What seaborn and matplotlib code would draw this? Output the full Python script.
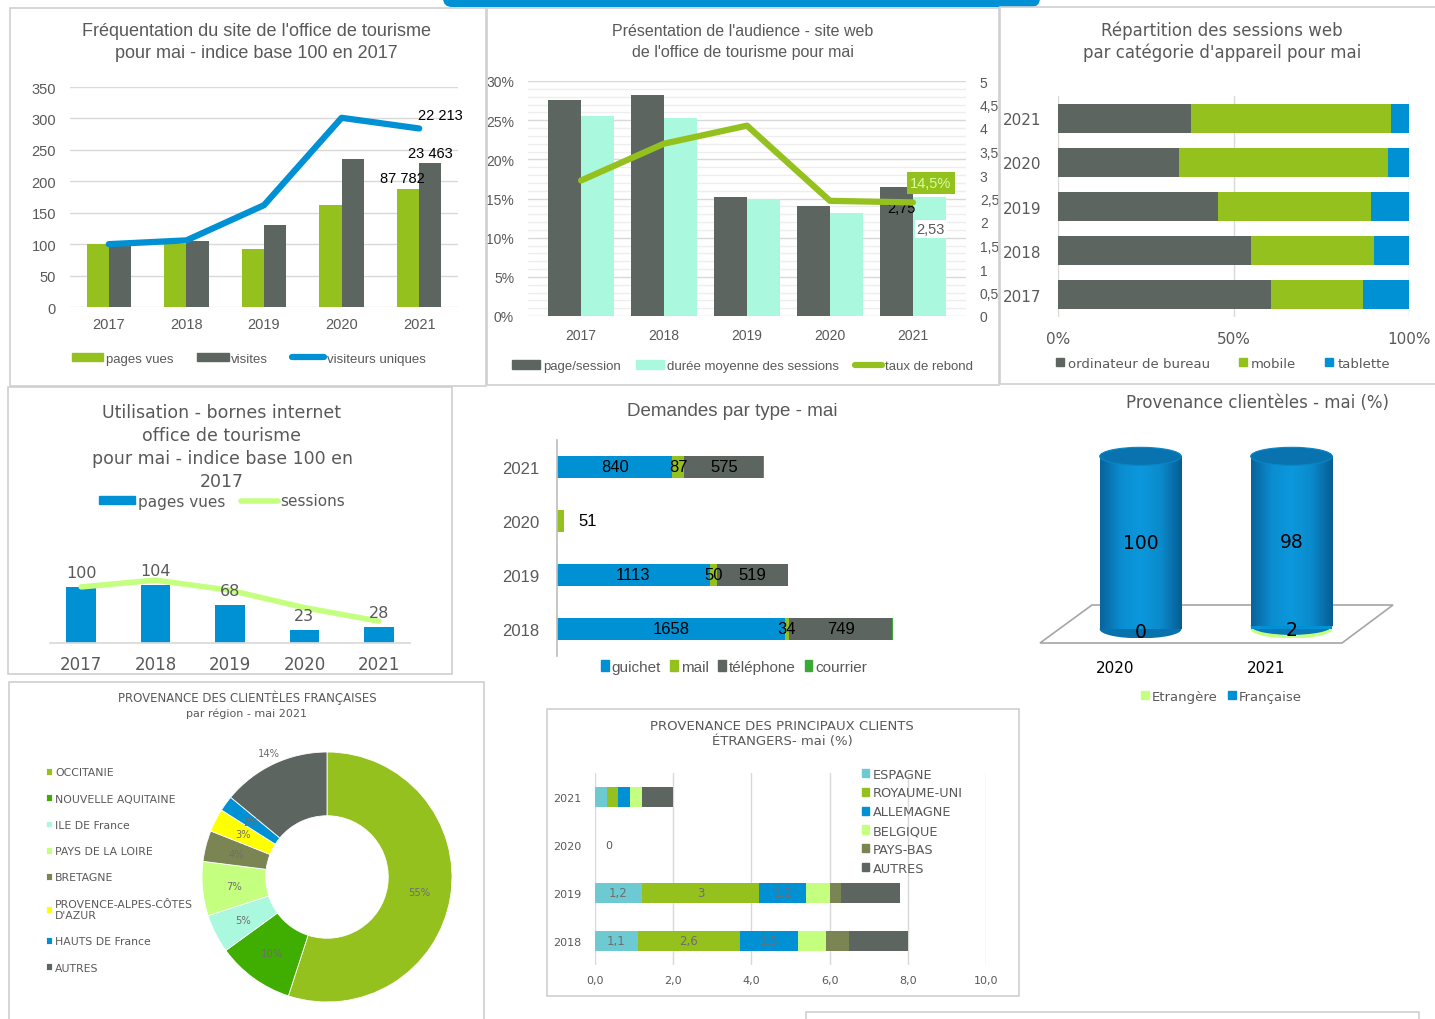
import numpy as np
import pandas as pd
import seaborn as sns
import matplotlib
matplotlib.use('Agg')
import matplotlib.pyplot as plt
from matplotlib import font_manager
from matplotlib.colors import LinearSegmentedColormap
from matplotlib.lines import Line2D
from matplotlib.patches import Patch, Rectangle, Ellipse, Polygon, FancyBboxPatch
from matplotlib.transforms import IdentityTransform, ScaledTranslation

years = ['2017', '2018', '2019', '2020', '2021']

# fréquentation du site (indice base 100 en 2017)
web_pages_vues = [100, 101, 92, 162, 187]
web_visites = [100, 105, 130, 236, 229]
web_visiteurs_uniques = [100, 106, 162, 301, 284]

# audience du site web
page_session = [4.59, 4.70, 2.53, 2.34, 2.75]
duree_sessions = [4.26, 4.21, 2.50, 2.20, 2.53]
taux_rebond = [17.3, 22.0, 24.3, 14.7, 14.5]

# sessions web par appareil (%)
ordinateur = [60.7, 55.1, 45.6, 34.5, 37.8]
mobile = [26.1, 34.8, 43.5, 59.4, 57.1]
tablette = [13.2, 10.1, 10.9, 6.1, 5.1]

# bornes internet (indice)
bornes_pages_vues = [100, 104, 68, 23, 28]
bornes_sessions = [100, 112, 94, 63, 39]

# demandes par type
demand_years = ['2021', '2020', '2019', '2018']
guichet = [840, 0, 1113, 1658]
mail = [87, 51, 50, 34]
telephone = [575, 0, 519, 749]
courrier = [3, 0, 0, 6]

# provenance clientèles (%)
prov_years = ['2020', '2021']
etrangere = [0, 2]
francaise = [100, 98]

# régions françaises, mai 2021
regions = ['OCCITANIE', 'NOUVELLE AQUITAINE', 'ILE DE France', 'PAYS DE LA LOIRE',
           'BRETAGNE', "PROVENCE-ALPES-CÔTES\nD'AZUR", 'HAUTS DE France', 'AUTRES']
region_pct = [55, 10, 5, 7, 4, 3, 2, 14]

# principaux clients étrangers (%)
etr_years = ['2021', '2020', '2019', '2018']
pays = ['ESPAGNE', 'ROYAUME-UNI', 'ALLEMAGNE', 'BELGIQUE', 'PAYS-BAS', 'AUTRES']
espagne = [0.3, 0, 1.2, 1.1]
royaume_uni = [0.3, 0, 3.0, 2.6]
allemagne = [0.3, 0, 1.2, 1.5]
belgique = [0.3, 0, 0.6, 0.7]
pays_bas = [0.0, 0, 0.3, 0.6]
autres = [0.8, 0, 1.5, 1.5]

GREEN = '#95C11F'
GREY = '#5D6560'
BLUE = '#0091D5'
AQUA = '#AAF9DE'
LIME = '#C4FF80'
DKGREEN = '#3FAE00'
OLIVE = '#7A8553'
TEAL = '#6DCAD2'
YELLOW = '#FFFF00'
TXT = '#595959'
GRID = '#D9D9D9'

W, H = 1435, 1020

sns.set_theme(style='white')
plt.rcParams['font.family'] = ['Liberation Sans', 'DejaVu Sans']
installed = {f.name for f in font_manager.fontManager.ttflist}
NARROW = ['Liberation Sans Narrow', 'Liberation Sans'] if 'Liberation Sans Narrow' in installed else ['Liberation Sans']
ROUND = 'DejaVu Sans'


def px_axes(fig, left, top, right, bottom):
    return fig.add_axes([left / W, 1 - bottom / H, (right - left) / W, (bottom - top) / H])


def px_text(fig, x, y, s, **kw):
    kw.setdefault('ha', 'center')
    kw.setdefault('va', 'center')
    fig.text(x / W, 1 - y / H, s, **kw)


def px_box(fig, left, top, right, bottom, color='#D0D0D0'):
    fig.add_artist(Rectangle((left, H - bottom), right - left, bottom - top, fill=False,
                             edgecolor=color, lw=1.2, transform=IdentityTransform()))


def stacked_barh(ax, cats, series, colors, height):
    cum = np.cumsum(np.array(series, dtype=float), axis=0)
    for vals, col in zip(cum[::-1], colors[::-1]):
        sns.barplot(x=vals, y=cats, order=cats, orient='h', color=col, saturation=1,
                    width=height, linewidth=0, ax=ax)
    return cum


def comma(v):
    return f'{v:g}'.replace('.', ',')


fig = plt.figure(figsize=(W / 100, H / 100), dpi=100)
fig.patch.set_facecolor('white')

# bandeau bleu en haut
fig.add_artist(FancyBboxPatch((443, H - 8), 597, 30, boxstyle='round,pad=0,rounding_size=9',
                              facecolor=BLUE, edgecolor='none', transform=IdentityTransform()))

# cadres
px_box(fig, 10, 9, 486, 387)
px_box(fig, 487, 9, 999, 386)
px_box(fig, 1000, 8, 1436, 385)
px_box(fig, 8, 388, 452, 675)
px_box(fig, 9, 683, 484, 1030)
px_box(fig, 547, 710, 1019, 997)
px_box(fig, 806, 1013, 1419, 1040)

# ---------- 1. fréquentation du site ----------
ax1 = px_axes(fig, 70, 88, 458, 308)
df1 = pd.DataFrame({'annee': years * 2,
                    'serie': ['pages vues'] * 5 + ['visites'] * 5,
                    'indice': web_pages_vues + web_visites})
sns.barplot(data=df1, x='annee', y='indice', hue='serie', palette=[GREEN, GREY], saturation=1,
            width=0.57, linewidth=0, legend=False, ax=ax1)
sns.lineplot(x=np.arange(5), y=web_visiteurs_uniques, color=BLUE, lw=4.5, ax=ax1,
             solid_capstyle='round')
ax1.set_ylim(0, 350)
ax1.set_xlim(-0.5, 4.5)
ax1.set_yticks(range(0, 351, 50))
ax1.grid(axis='y', color=GRID, lw=1)
ax1.set_axisbelow(True)
sns.despine(ax=ax1, left=True, bottom=True)
ax1.tick_params(length=0, colors=TXT, labelsize=10.5)
ax1.tick_params(axis='y', pad=10)
ax1.tick_params(axis='x', pad=7)
ax1.set_xlabel('')
ax1.set_ylabel('')
ax1.annotate('22 213', (4, web_visiteurs_uniques[4]), xytext=(15, 5), textcoords='offset points',
             ha='center', va='bottom', fontsize=10.5, color='black')
ax1.annotate('23 463', (4.14, web_visites[4]), xytext=(0, 2), textcoords='offset points',
             ha='center', va='bottom', fontsize=10.5, color='black')
ax1.annotate('87 782', (3.86, web_pages_vues[4]), xytext=(-4, 3), textcoords='offset points',
             ha='center', va='bottom', fontsize=10.5, color='black')
h1 = [Patch(color=GREEN), Patch(color=GREY), Line2D([], [], color=BLUE, lw=4.5)]
ax1.legend(h1, ['pages vues', 'visites', 'visiteurs uniques'], loc='center',
           bbox_to_anchor=(0.46, -0.236), ncol=3, frameon=False, fontsize=9.5,
           handlelength=2.4, handleheight=0.6, handletextpad=0.2, columnspacing=1.8,
           labelcolor=TXT)
px_text(fig, 256, 31, "Fréquentation du site de l'office de tourisme", fontsize=13, color=TXT)
px_text(fig, 256, 53, 'pour mai - indice base 100 en 2017', fontsize=13, color=TXT)

# ---------- 2. audience du site web ----------
ax2 = px_axes(fig, 528, 82, 966, 317)
df2 = pd.DataFrame({'annee': years * 2,
                    'serie': ['page/session'] * 5 + ['durée moyenne des sessions'] * 5,
                    'valeur': page_session + duree_sessions})
for k in range(31):
    ax2.axhline(k * 5 / 30, color=GRID if k % 5 == 0 else '#EEEEEE', lw=1, zorder=0)
sns.barplot(data=df2, x='annee', y='valeur', hue='serie', palette=[GREY, AQUA], saturation=1,
            width=0.8, linewidth=0, legend=False, ax=ax2)
ax2.set_ylim(0, 5)
ax2.set_xlabel('')
ax2.set_ylabel('')
ax2r = ax2.twinx()
sns.lineplot(x=np.arange(5), y=taux_rebond, color=GREEN, lw=4.5, ax=ax2r, solid_capstyle='round')
ax2r.set_ylim(0, 30)
ax2r.set_yticks(range(0, 31, 5))
ax2r.set_yticklabels([f'{v}%' for v in range(0, 31, 5)])
ax2r.yaxis.tick_left()
ax2r.set_ylabel('')
for s in ax2r.spines.values():
    s.set_visible(False)
ax2r.tick_params(length=0, colors=TXT, labelsize=10, pad=10)
# barres sur l'échelle de droite
ax2.yaxis.tick_right()
ax2.set_yticks(np.arange(0, 5.01, 0.5))
ax2.set_yticklabels([comma(v) for v in np.arange(0, 5.01, 0.5)])
sns.despine(ax=ax2, left=True, bottom=True)
ax2.tick_params(length=0, colors=TXT, labelsize=10)
ax2.tick_params(axis='y', pad=10)
ax2.tick_params(axis='x', pad=9)
ax2.annotate(comma(page_session[4]), (3.8, page_session[4]), xytext=(4, -15),
             textcoords='offset points', ha='center', va='center', fontsize=10.5, color='black')
ax2.annotate(comma(duree_sessions[4]), (4.2, duree_sessions[4]), xytext=(1, -23),
             textcoords='offset points', ha='center', va='center', fontsize=10.5, color=TXT,
             bbox=dict(boxstyle='square,pad=0.15', facecolor='white', edgecolor='none'))
ax2r.annotate(comma(taux_rebond[4]) + '%', (4, taux_rebond[4]), xytext=(13, 14),
              textcoords='offset points', ha='center', va='center', fontsize=10.5, color='#D2FF9C',
              bbox=dict(boxstyle='square,pad=0.25', facecolor=GREEN, edgecolor='none'))
h2 = [Patch(color=GREY), Patch(color=AQUA), Line2D([], [], color=GREEN, lw=4.5)]
ax2.legend(h2, ['page/session', 'durée moyenne des sessions', 'taux de rebond'], loc='center',
           bbox_to_anchor=(0.49, -0.213), ncol=3, frameon=False, fontsize=9.5,
           handlelength=2.1, handleheight=0.6, handletextpad=0.2, columnspacing=1.2,
           labelcolor=TXT)
px_text(fig, 743, 31, "Présentation de l'audience - site web", fontsize=11.5, color=TXT)
px_text(fig, 743, 53, "de l'office de tourisme pour mai", fontsize=11.5, color=TXT)

# ---------- 3. sessions par appareil ----------
ax3 = px_axes(fig, 1058, 97, 1409, 318)
stacked_barh(ax3, years[::-1], [ordinateur[::-1], mobile[::-1], tablette[::-1]],
             [GREY, GREEN, BLUE], 0.66)
ax3.set_xlim(0, 100)
ax3.set_xticks([0, 50, 100])
ax3.set_xticklabels(['0%', '50%', '100%'])
ax3.grid(axis='x', color=GRID, lw=1)
ax3.set_axisbelow(True)
sns.despine(ax=ax3, left=True, bottom=True)
ax3.tick_params(length=0, colors=TXT, labelsize=11, labelfontfamily=ROUND)
ax3.tick_params(axis='y', pad=12)
ax3.tick_params(axis='x', pad=10)
h3 = [Patch(color=c) for c in [GREY, GREEN, BLUE]]
ax3.legend(h3, ['ordinateur de bureau', 'mobile', 'tablette'], loc='center',
           bbox_to_anchor=(0.47, -0.21), ncol=3, frameon=False,
           prop={'family': ROUND, 'size': 9.5}, handlelength=0.6, handleheight=0.6,
           handletextpad=0.3, columnspacing=2.2, labelcolor=TXT)
px_text(fig, 1222, 31, 'Répartition des sessions web', fontsize=12, color=TXT, family=ROUND)
px_text(fig, 1222, 53, "par catégorie d'appareil pour mai", fontsize=12, color=TXT, family=ROUND)

# ---------- 4. bornes internet ----------
ax4 = px_axes(fig, 50, 543, 410, 644)
sns.barplot(x=years, y=bornes_pages_vues, color=BLUE, saturation=1, width=0.4, linewidth=0, ax=ax4)
sns.lineplot(x=np.arange(5), y=bornes_sessions, color=LIME, lw=4, ax=ax4, solid_capstyle='round')
ax4.bar_label(ax4.containers[0], padding=5, color=TXT, fontsize=11.5, family=ROUND)
ax4.set_ylim(0, 180)
ax4.set_yticks([])
sns.despine(ax=ax4, left=True)
ax4.spines['bottom'].set_color(GRID)
ax4.tick_params(length=0, colors=TXT, labelsize=12, labelfontfamily=ROUND, pad=9)
h4 = [Patch(color=BLUE), Line2D([], [], color=LIME, lw=4)]
fig.legend(h4, ['pages vues', 'sessions'], loc='center', bbox_to_anchor=(222 / W, 1 - 502 / H),
           ncol=2, frameon=False, prop={'family': ROUND, 'size': 11}, handlelength=2.4,
           handleheight=0.5, handletextpad=0.2, columnspacing=1.0, labelcolor=TXT)
for i, line in enumerate(['Utilisation - bornes internet', 'office de tourisme',
                          'pour mai - indice base 100 en', '2017']):
    px_text(fig, 222, 413 + 23 * i, line, fontsize=12.5, color=TXT, family=ROUND)

# ---------- 5. demandes par type ----------
ax5 = px_axes(fig, 557, 441, 969, 657)
dem = [guichet, mail, telephone, courrier]
cum5 = stacked_barh(ax5, demand_years, dem, [BLUE, GREEN, GREY, '#3AAA35'], 0.39)
ax5.set_xlim(0, 3000)
ax5.set_xticks([])
sns.despine(ax=ax5, bottom=True)
ax5.spines['left'].set_color('#BFBFBF')
ax5.tick_params(length=0, colors=TXT, labelsize=12, labelfontfamily=NARROW, pad=13)
for r in range(len(demand_years)):
    nonzero = [s for s in range(3) if dem[s][r] > 0]
    for s in nonzero:
        start = cum5[s][r] - dem[s][r]
        if len(nonzero) == 1 and dem[s][r] < 100:
            ax5.annotate(str(dem[s][r]), (cum5[s][r], r), xytext=(17, 0), textcoords='offset points',
                         ha='center', va='center', fontsize=12, color='black', family=NARROW)
        else:
            ax5.text(start + dem[s][r] / 2, r, str(dem[s][r]), ha='center', va='center',
                     fontsize=12, color='black', family=NARROW)
h5 = [Patch(color=c) for c in [BLUE, GREEN, GREY, '#3AAA35']]
ax5.legend(h5, ['guichet', 'mail', 'téléphone', 'courrier'], loc='center',
           bbox_to_anchor=(0.43, -0.05), ncol=4, frameon=False,
           prop={'family': NARROW, 'size': 11}, handlelength=0.5, handleheight=0.8,
           handletextpad=0.2, columnspacing=0.6, labelcolor=TXT)
px_text(fig, 732, 412, 'Demandes par type - mai', fontsize=13.5, color=TXT, family=NARROW)

# ---------- 6. provenance clientèles (cylindres) ----------
ax6 = px_axes(fig, 1065, 440, 1367, 639)
ax6.set_facecolor('none')
fig.add_artist(Polygon([(1040, H - 644), (1092, H - 606), (1393, H - 606), (1342, H - 644)],
                       closed=True, fill=False, edgecolor='#A6A6A6', lw=1.2,
                       transform=IdentityTransform(), zorder=-1))
totals6 = [e + f for e, f in zip(etrangere, francaise)]
sns.barplot(x=prov_years, y=totals6, color=BLUE, saturation=1, width=0.54, linewidth=0, ax=ax6)
body = LinearSegmentedColormap.from_list('cyl', ['#08649C', '#0A8DD0', '#0C98DD', '#0A8ACB', '#075E93'])
cap_h = 10.4
for p, e in zip(list(ax6.patches), etrangere):
    x0, w, top = p.get_x(), p.get_width(), p.get_height()
    cx = x0 + w / 2
    # fond du cylindre : part étrangère en croissant vert
    ax6.add_patch(Ellipse((cx, 0), w, cap_h, facecolor=LIME if e > 0 else '#0872AE',
                          edgecolor='none', zorder=0.5))
    if e > 0:
        ax6.add_patch(Ellipse((cx, e), w, cap_h, facecolor='#0878B8', edgecolor='none', zorder=0.6))
    im = ax6.imshow(np.linspace(0, 1, 64)[None, :], extent=(x0, x0 + w, e, top), aspect='auto',
                    cmap=body, zorder=1.5)
    im.set_clip_path(p)
    ax6.add_patch(Ellipse((cx, top), w, cap_h, facecolor='#0873AE', edgecolor='#0A86C6',
                          lw=0.8, zorder=2))
for i, (e, f) in enumerate(zip(etrangere, francaise)):
    ax6.text(i, e + f / 2, str(f), ha='center', va='center', fontsize=13.5, color='black',
             family=ROUND, zorder=3)
    ax6.text(i, e / 2 - 1, str(e), ha='center', va='center', fontsize=13.5, color='black',
             family=ROUND, zorder=3)
ax6.set_xlim(-0.5, 1.5)
ax6.set_ylim(-5, 110)
ax6.set_yticks([])
sns.despine(ax=ax6, left=True, bottom=True)
ax6.tick_params(length=0, colors='black', labelsize=11, labelfontfamily=ROUND, pad=16)
for lbl in ax6.get_xticklabels():
    lbl.set_transform(lbl.get_transform() + ScaledTranslation(-0.25, 0, fig.dpi_scale_trans))
h6 = [Patch(color=LIME), Patch(color=BLUE)]
fig.legend(h6, ['Etrangère', 'Française'], loc='center', bbox_to_anchor=(1221 / W, 1 - 697 / H),
           ncol=2, frameon=False, prop={'family': ROUND, 'size': 9.5}, handlelength=0.6,
           handleheight=0.6, handletextpad=0.2, columnspacing=0.8, labelcolor=TXT)
px_text(fig, 1258, 403, 'Provenance clientèles - mai (%)', fontsize=12, color=TXT, family=ROUND)

# ---------- 7. régions françaises (anneau) ----------
ax7 = px_axes(fig, 202, 753, 452, 1003)
reg_colors = [GREEN, DKGREEN, AQUA, LIME, OLIVE, YELLOW, BLUE, GREY]
wedges, _, autotexts = ax7.pie(region_pct, colors=reg_colors, startangle=90, counterclock=False,
                               autopct='%d%%', pctdistance=0.75, radius=1,
                               wedgeprops=dict(width=0.51, edgecolor='white', lw=0.6),
                               textprops=dict(color='#6E6E6E', fontsize=7.2, family=ROUND))
xa, ya = autotexts[-1].get_position()
autotexts[-1].set_position((xa * 1.1 / 0.75, ya * 1.1 / 0.75))
ax7.set_xlim(-1, 1)
ax7.set_ylim(-1, 1)
fig.legend(wedges, regions, loc='center left', bbox_to_anchor=(36 / W, 1 - 871 / H),
           frameon=False, prop={'family': ROUND, 'size': 7.8}, handlelength=0.6,
           handleheight=0.6, handletextpad=0.25, labelspacing=1.5, labelcolor=TXT)
px_text(fig, 247, 698, 'PROVENANCE DES CLIENTÈLES FRANÇAISES', fontsize=8.5, color=TXT, family=ROUND)
px_text(fig, 247, 714, 'par région - mai 2021', fontsize=8, color=TXT, family=ROUND)

# ---------- 8. clients étrangers ----------
ax8 = px_axes(fig, 595, 774, 986, 966)
etr = [espagne, royaume_uni, allemagne, belgique, pays_bas, autres]
etr_colors = [TEAL, GREEN, BLUE, LIME, OLIVE, GREY]
cum8 = stacked_barh(ax8, etr_years, etr, etr_colors, 0.4)
ax8.set_xlim(0, 10)
ax8.set_xticks(range(0, 11, 2))
ax8.set_xticklabels([f'{v:.1f}'.replace('.', ',') for v in range(0, 11, 2)])
ax8.grid(axis='x', color=GRID, lw=1)
ax8.set_axisbelow(True)
sns.despine(ax=ax8, left=True, bottom=True)
ax8.tick_params(length=0, colors=TXT, labelsize=8, labelfontfamily=ROUND)
ax8.tick_params(axis='y', pad=10)
ax8.tick_params(axis='x', pad=7)
for r in range(len(etr_years)):
    if cum8[-1][r] == 0:
        ax8.annotate('0', (0, r), xytext=(10, 0), textcoords='offset points', ha='center',
                     va='center', fontsize=8, color=TXT, family=ROUND)
    # seules les trois premières séries portent une étiquette
    for s in range(3):
        v = etr[s][r]
        if v >= 1:
            ax8.text(cum8[s][r] - v / 2, r, comma(v), ha='center', va='center', fontsize=8.5,
                     color='#6E6E6E', family=ROUND)
h8 = [Patch(color=c) for c in etr_colors]
fig.legend(h8, pays, loc='upper left', bbox_to_anchor=(850 / W, 1 - 757 / H), frameon=False,
           prop={'family': ROUND, 'size': 9.3}, handlelength=0.6, handleheight=0.6,
           handletextpad=0.3, labelspacing=0.45, labelcolor=TXT)
px_text(fig, 782, 726, 'PROVENANCE DES PRINCIPAUX CLIENTS', fontsize=9.5, color=TXT, family=ROUND)
px_text(fig, 782, 742, 'ÉTRANGERS- mai (%)', fontsize=9.5, color=TXT, family=ROUND)

fig.savefig('out.png', dpi=100, facecolor='white')
